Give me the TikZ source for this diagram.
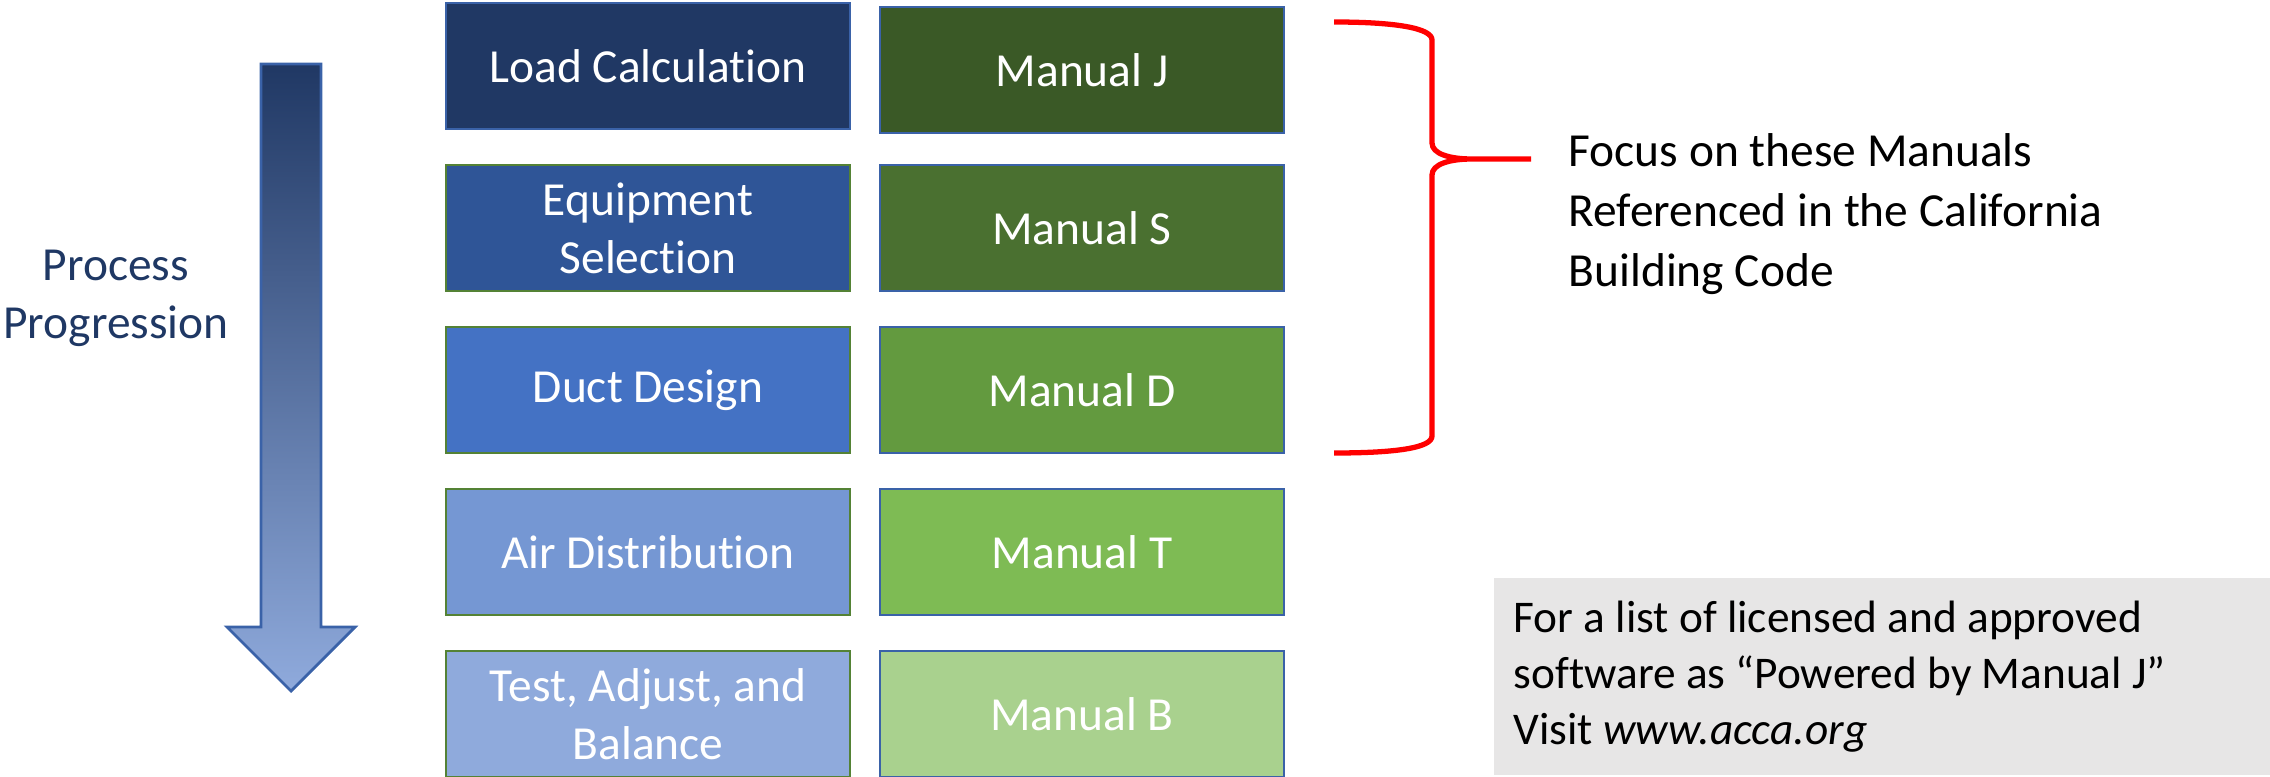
\documentclass[tikz,border=0pt]{standalone}
\usepackage{fontspec}
\setmainfont{Carlito}[Ligatures=CommonOff]
\usetikzlibrary{positioning}

\definecolor{stageA}{HTML}{203864}
\definecolor{stageB}{HTML}{2F5597}
\definecolor{stageC}{HTML}{4472C4}
\definecolor{stageD}{HTML}{7597D3}
\definecolor{stageE}{HTML}{8FAADC}
\definecolor{manA}{HTML}{3A5926}
\definecolor{manB}{HTML}{4A7030}
\definecolor{manC}{HTML}{639A3F}
\definecolor{manD}{HTML}{7EBB54}
\definecolor{manE}{HTML}{A9D18E}
\definecolor{blueline}{HTML}{3A62A8}
\definecolor{greenline}{HTML}{548235}
\definecolor{navytext}{HTML}{1F3864}
\definecolor{notegray}{HTML}{E7E6E6}

\begin{document}
\begin{tikzpicture}[
    node distance=0.36cm and 0.3cm,
    every node/.style={
      font=\fontsize{13.5pt}{16.5pt}\selectfont
    },
    box/.style={
      draw,
      rectangle,
      minimum width=4.04cm,
      minimum height=1.26cm,
      inner sep=0pt,
      outer sep=0pt,
      line width=0.6pt,
      text=white,
      align=center
    },
    stage/.style={box, draw=greenline},
    manual/.style={box, draw=blueline}
  ]
    \useasboundingbox (0,0) rectangle (22.70,7.76);

    % process steps
    \node (load) [stage, draw=blueline, fill=stageA] at (6.48,7.10) {Load Calculation};
    \node (equip) [stage, fill=stageB, below=of load] {Equipment\\Selection};
    \node (duct) [stage, fill=stageC, below=of equip] {Duct Design};
    \node (air) [stage, fill=stageD, below=of duct] {Air Distribution};
    \node (tab) [stage, fill=stageE, below=of air] {Test, Adjust, and\\Balance};

    % manuals
    \node (manJ) [manual, fill=manA, right=of load, yshift=-0.04cm] {Manual J};
    \node (manS) [manual, fill=manB, right=of equip] {Manual S};
    \node (manD) [manual, fill=manC, right=of duct] {Manual D};
    \node (manT) [manual, fill=manD, right=of air] {Manual T};
    \node (manB) [manual, fill=manE, right=of tab] {Manual B};

    % progression arrow
    \shade[top color=stageA, middle color=stageB, bottom color=stageE,
           draw=blueline, line width=0.8pt]
      (2.61,7.12) -- (3.21,7.12) -- (3.21,1.49) -- (3.55,1.49)
      -- (2.91,0.85) -- (2.27,1.49) -- (2.61,1.49) -- cycle;
    \node (progress) [text=navytext, align=center] at (1.16,4.78) {Process\\Progression};

    % brace
    \coordinate (braceTip) at (15.31,6.17);
    \draw[red, line width=1.5pt, line join=round]
      (13.34,7.54) .. controls (13.95,7.54) and (14.32,7.48) .. (14.32,7.36)
      -- (14.32,6.33) .. controls (14.32,6.22) and (14.50,6.17) .. (14.72,6.17)
      -- (braceTip)
      (14.72,6.17) .. controls (14.50,6.17) and (14.32,6.12) .. (14.32,6.01)
      -- (14.32,3.40) .. controls (14.32,3.28) and (13.95,3.23) .. (13.34,3.23);
    \node (focus) [anchor=west, align=left, inner sep=0pt,
                   font=\fontsize{13.5pt}{17pt}\selectfont] at (15.68,5.62)
      {Focus on these Manuals\\Referenced in the California\\Building Code};

    % note
    \node (note) [anchor=south west, fill=notegray, minimum width=7.77cm,
                  minimum height=1.97cm, text width=7.37cm, inner xsep=0.2cm,
                  inner ysep=0pt, align=flush left,
                  font=\fontsize{12.9pt}{16pt}\selectfont] at (14.93,0)
      {For a list of licensed and approved\\software as “Powered by Manual J”\\Visit \textit{www.acca.org}};
  \end{tikzpicture}
\end{document}
